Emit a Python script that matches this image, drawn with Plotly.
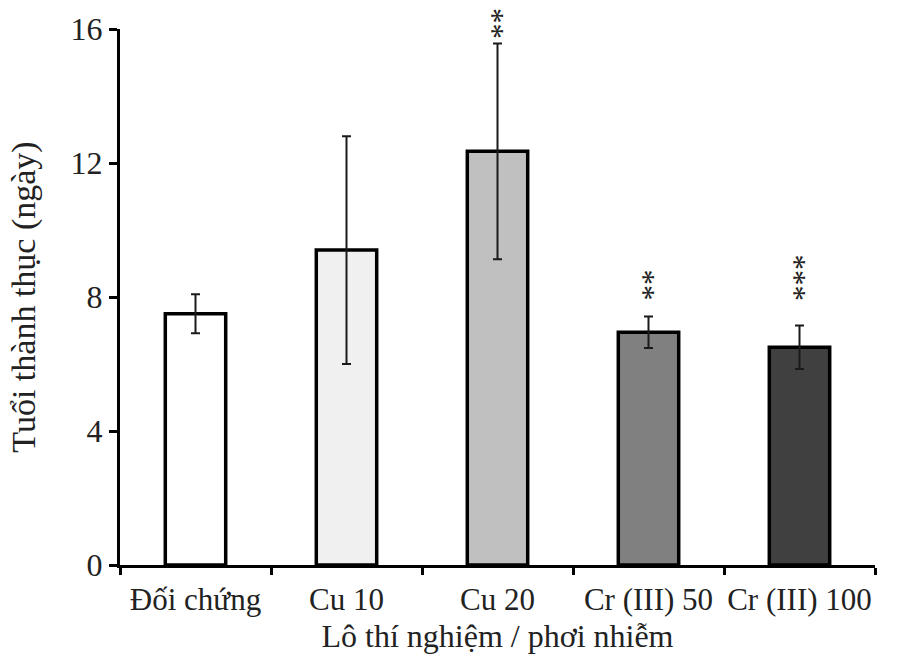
import plotly.graph_objects as go

categories = ["Đối chứng", "Cu 10", "Cu 20", "Cr (III) 50", "Cr (III) 100"]
means = [7.5, 9.4, 12.35, 6.95, 6.5]
errors = [0.58, 3.4, 3.22, 0.47, 0.65]
bar_colors = ["#ffffff", "#f0f0f0", "#c0c0c0", "#808080", "#404040"]
sig_labels = ["", "", "**", "**", "***"]
sig_y = [None, None, 15.9, 8.1, 8.07]
y_ticks = [0, 4, 8, 12, 16]

FONT = "Liberation Serif"
STAR_SIZE = 31

fig = go.Figure()
fig.add_trace(go.Bar(
    x=categories, y=means,
    width=0.4,
    marker=dict(color=bar_colors, line=dict(color="black", width=3.5)),
    error_y=dict(type="data", array=errors, symmetric=True,
                 color="#1a1a1a", thickness=2, width=4.5),
    showlegend=False,
))

annotations = []
for cat, lab, sy in zip(categories, sig_labels, sig_y):
    if not lab:
        continue
    annotations.append(dict(
        x=cat, y=sy, xref="x", yref="y", text=lab, textangle=90,
        showarrow=False, yanchor="bottom", xanchor="center",
        yshift=-STAR_SIZE / 4, xshift=-5, borderpad=0,
        font=dict(family=FONT, size=STAR_SIZE, color="#222222"),
    ))

fig.update_layout(
    width=898, height=657,
    margin=dict(l=120, r=23, t=29, b=92),
    paper_bgcolor="white", plot_bgcolor="white",
    font=dict(family=FONT, size=32, color="#222222"),
    annotations=annotations,
    bargap=0.6,
    xaxis=dict(
        showline=True, linecolor="black", linewidth=3,
        ticks="outside", ticklen=7, tickwidth=3, tickcolor="black",
        tickson="boundaries", showgrid=False, zeroline=False,
        tickangle=0, automargin=False, ticklabelstandoff=5,
        title=dict(text="Lô thí nghiệm / phơi nhiễm", standoff=9,
                   font=dict(family=FONT, size=32)),
        tickfont=dict(family=FONT, size=31),
    ),
    yaxis=dict(
        range=[0, 16], tickvals=y_ticks,
        showline=True, linecolor="black", linewidth=3,
        ticks="outside", ticklen=8, tickwidth=3, tickcolor="black",
        showgrid=False, zeroline=False, automargin=False,
        title=dict(text="Tuổi thành thục (ngày)", standoff=25,
                   font=dict(family=FONT, size=34)),
        tickfont=dict(family=FONT, size=32),
    ),
)

fig.write_html("out.html")
